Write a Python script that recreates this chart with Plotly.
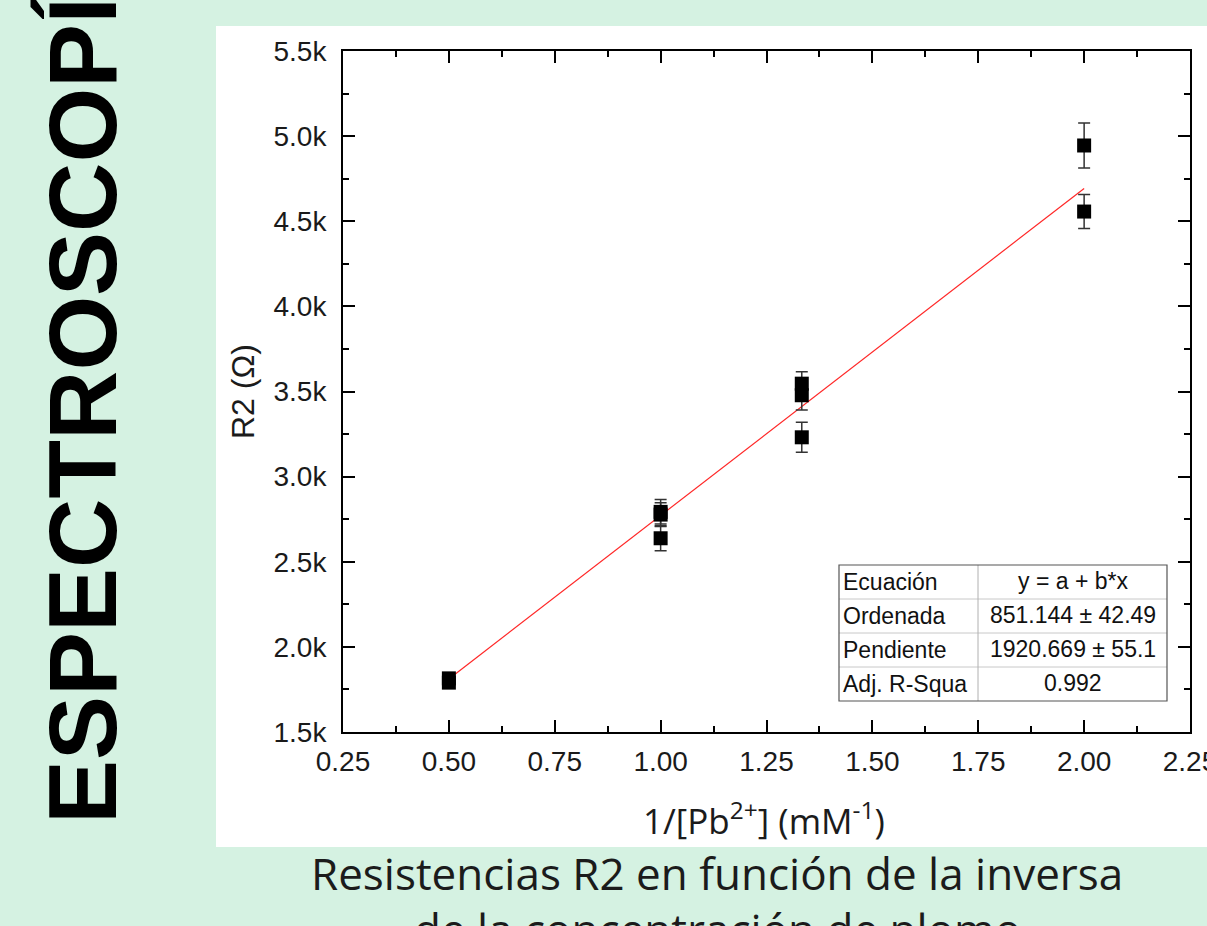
import plotly.graph_objects as go

# ---------------- data ----------------
x_inv_pb = [0.5, 0.5, 1.0, 1.0, 1.0, 1.3333, 1.3333, 1.3333, 2.0, 2.0]
r2_ohm = [1790, 1815, 2793, 2777, 2638, 3546, 3478, 3231, 4945, 4557]
r2_err = [15, 15, 72, 70, 73, 70, 86, 88, 132, 100]

fit_intercept = 851.144
fit_slope = 1920.669
fit_x = [0.5, 2.0]

x_ticks = [0.25, 0.50, 0.75, 1.00, 1.25, 1.50, 1.75, 2.00, 2.25]
x_ticktext = ["0.25", "0.50", "0.75", "1.00", "1.25", "1.50", "1.75", "2.00", "2.25"]
y_ticks = [1500, 2000, 2500, 3000, 3500, 4000, 4500, 5000, 5500]
y_ticktext = ["1.5k", "2.0k", "2.5k", "3.0k", "3.5k", "4.0k", "4.5k", "5.0k", "5.5k"]

table_labels = ["Ecuación", "Ordenada", "Pendiente", "Adj. R-Squa"]
table_values = ["y = a + b*x", "851.144 ± 42.49", "1920.669 ± 55.1", "0.992"]

side_title = "ESPECTROSCOPÍA"
caption_lines = ["Resistencias R2 en función de la inversa", "de la concentración de plomo"]
x_title = "1/[Pb<sup>2+</sup>] (mM<sup>-1</sup>)"
y_title = "R2 (Ω)"

# ---------------- layout geometry ----------------
W, H = 1207, 926
ML, MR, MT, MB = 343, 17, 51, 194
PW, PH = W - ML - MR, H - MT - MB


def px(xp):
    return (xp - ML) / PW


def py(yp):
    return (H - MB - yp) / PH


GREEN = "#d5f2e2"
TXT = "#1b1b1b"

fit_y = [fit_intercept + fit_slope * v for v in fit_x]

fig = go.Figure()
fig.add_trace(go.Scatter(
    x=fit_x, y=fit_y, mode="lines",
    line=dict(color="rgba(255,0,0,0.85)", width=1.2),
    hoverinfo="skip", showlegend=False,
))
fig.add_trace(go.Scatter(
    x=x_inv_pb, y=r2_ohm, mode="markers",
    marker=dict(symbol="square", size=14, color="black"),
    error_y=dict(type="data", array=r2_err, visible=True,
                 color="#333333", thickness=1.5, width=6),
    showlegend=False,
))

shapes = []
# white panel
shapes.append(dict(type="rect", xref="paper", yref="paper",
                   x0=px(216), x1=px(1230), y0=py(847), y1=py(26),
                   fillcolor="white", line=dict(width=0), layer="below"))

# table
tx0, tx1, tmid = 839, 1167, 978
row_edges = [565, 599, 633, 667, 701]
shapes.append(dict(type="rect", xref="paper", yref="paper",
                   x0=px(tx0), x1=px(tx1), y0=py(row_edges[-1]), y1=py(row_edges[0]),
                   fillcolor="white", line=dict(width=0), layer="above"))
for ye in row_edges[1:-1]:
    shapes.append(dict(type="line", xref="paper", yref="paper",
                       x0=px(tx0), x1=px(tx1), y0=py(ye), y1=py(ye),
                       line=dict(color="#c8c8c8", width=1), layer="above"))
shapes.append(dict(type="line", xref="paper", yref="paper",
                   x0=px(tmid), x1=px(tmid), y0=py(row_edges[-1]), y1=py(row_edges[0]),
                   line=dict(color="#b0b0b0", width=1), layer="above"))
shapes.append(dict(type="rect", xref="paper", yref="paper",
                   x0=px(tx0), x1=px(tx1), y0=py(row_edges[-1]), y1=py(row_edges[0]),
                   fillcolor="rgba(0,0,0,0)", line=dict(color="#555555", width=1.2),
                   layer="above"))

annotations = []
TABLE_FONT = dict(family="Liberation Sans, Arial", size=23, color="#111")
for i, (lab, val) in enumerate(zip(table_labels, table_values)):
    yc = (row_edges[i] + row_edges[i + 1]) / 2
    annotations.append(dict(xref="paper", yref="paper", x=px(tx0 + 2), y=py(yc),
                            text=lab, showarrow=False, xanchor="left", yanchor="middle",
                            font=TABLE_FONT))
    annotations.append(dict(xref="paper", yref="paper", x=px((tmid + tx1) / 2), y=py(yc - 1),
                            text=val, showarrow=False, xanchor="center", yanchor="middle",
                            font=TABLE_FONT))

# axis titles
annotations.append(dict(xref="paper", yref="paper", x=px(243), y=py(392),
                        text=y_title, showarrow=False, textangle=-90,
                        xanchor="center", yanchor="middle",
                        font=dict(family="Liberation Sans, Arial", size=32, color=TXT)))
annotations.append(dict(xref="paper", yref="paper", x=px(764), y=py(818),
                        text=x_title, showarrow=False,
                        xanchor="center", yanchor="middle",
                        font=dict(family="Open Sans", size=35, color=TXT)))

# caption
annotations.append(dict(xref="paper", yref="paper", x=px(717), y=py(873),
                        text=caption_lines[0], showarrow=False,
                        xanchor="center", yanchor="middle",
                        font=dict(family="Open Sans", size=44, color=TXT)))
annotations.append(dict(xref="paper", yref="paper", x=px(717), y=py(929),
                        text=caption_lines[1], showarrow=False,
                        xanchor="center", yanchor="middle",
                        font=dict(family="Open Sans", size=44, color=TXT)))

# big vertical title
annotations.append(dict(xref="paper", yref="paper", x=px(82), y=py(826),
                        text=side_title, showarrow=False, textangle=-90,
                        xanchor="center", yanchor="bottom",
                        font=dict(family="Liberation Sans, Arial", size=96,
                                  color="black", weight="bold")))

axis_common = dict(
    showline=True, linecolor="black", linewidth=2, mirror="allticks",
    ticks="inside", ticklen=12, tickwidth=2, tickcolor="black",
    showgrid=False, zeroline=False, ticklabeloverflow="allow", automargin=False,
)

fig.update_layout(
    width=W, height=H,
    margin=dict(l=ML, r=MR, t=MT, b=MB, pad=0, autoexpand=False),
    paper_bgcolor=GREEN, plot_bgcolor="rgba(0,0,0,0)",
    shapes=shapes, annotations=annotations,
    xaxis=dict(range=[0.25, 2.25], tickmode="array", tickvals=x_ticks, ticktext=x_ticktext,
               tickfont=dict(family="Liberation Sans, Arial", size=28, color="#1a1a1a"),
               ticklabelstandoff=3,
               minor=dict(ticks="inside", ticklen=6, tickwidth=2, tickcolor="black",
                          tickmode="linear", tick0=0.375, dtick=0.25),
               **axis_common),
    yaxis=dict(range=[1500, 5500], tickmode="array", tickvals=y_ticks, ticktext=y_ticktext,
               tickfont=dict(family="Liberation Sans, Arial", size=28, color="#1a1a1a"),
               ticklabelstandoff=9,
               minor=dict(ticks="inside", ticklen=6, tickwidth=2, tickcolor="black",
                          tickmode="linear", tick0=1750, dtick=500),
               **axis_common),
)

fig.write_html("out.html")
